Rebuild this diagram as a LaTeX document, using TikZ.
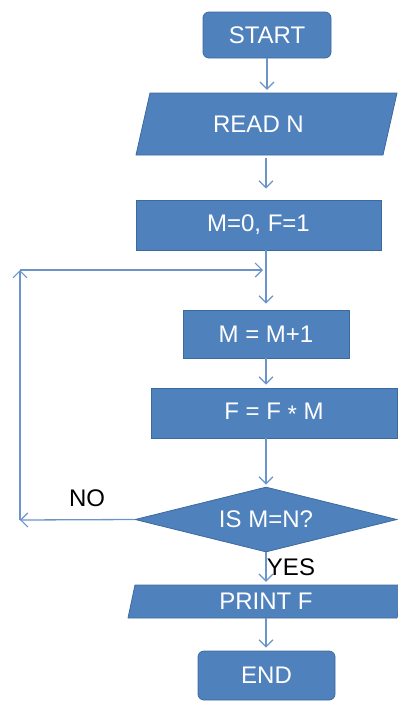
\documentclass[tikz,border=0pt]{standalone}
\usepackage{fontspec}
\setmainfont{Liberation Sans}
\usetikzlibrary{arrows.meta,shapes.geometric}
\definecolor{boxfill}{HTML}{4F81BD}
\definecolor{boxedge}{HTML}{3D6A9E}
\definecolor{flow}{HTML}{6A94CB}
\begin{document}
\begin{tikzpicture}[x=1pt,y=-1pt,
  txt/.style={font=\fontsize{24}{27}\selectfont},
  box/.style={txt, draw=boxedge, fill=boxfill, text=white, line width=0.8pt, inner sep=0pt},
  roundbox/.style={box, rounded corners=6pt},
  slantbox/.style={draw=boxedge, fill=boxfill, line width=0.8pt},
  slanttext/.style={txt, text=white, inner sep=0pt},
  decision/.style={box, diamond, aspect=4},
  arr/.style={draw=flow, line width=1.3pt, -{Straight Barb[length=7pt,width=14pt,line width=1.2pt]}},
  tag/.style={txt, text=black, inner sep=0pt}
]
\useasboundingbox (0,0) rectangle (398,702);

% start
\node[roundbox, minimum width=128, minimum height=46] (start) at (267,35) {START};

% input
\filldraw[slantbox] (150,93) -- (397,93) -- (383,155) -- (136,155) -- cycle;
\node[slanttext, minimum width=230, minimum height=62] (read) at (258.5,124) {READ N};

% initialisation
\node[box, minimum width=245, minimum height=50] (init) at (258.5,225) {M=0, F=1};

% loop body
\node[box, minimum width=166, minimum height=48] (inc) at (266,334) {M = M+1};
\node[box, minimum width=246, minimum height=50] (mul) at (274,413) {F = F \raisebox{-3pt}{*} M};

% test
\node[decision, minimum width=262, minimum height=65] (dec) at (266,519.5) {IS M=N?};

% output
\filldraw[slantbox] (135,585) -- (404,585) -- (397,618) -- (128,618) -- cycle;
\node[slanttext, minimum width=260, minimum height=33] (print) at (266,601.5) {PRINT F};

% end
\node[roundbox, minimum width=137, minimum height=49] (end) at (266.5,675.5) {END};

% loop-back corners
\coordinate (cornerbot) at (20,520);
\coordinate (cornertop) at (20,270);
\coordinate (join) at (266,270);

% connectors
\draw[arr, shorten >=3pt] (start.south) -- (start.south |- read.north);
\draw[arr, shorten <=3pt, shorten >=11pt] (read.south -| join) -- (init.north -| join);
\draw[arr, shorten >=6pt] (init.south -| join) -- (inc.north);
\draw[arr, shorten >=3pt] (cornertop) -- (join);
\draw[arr, shorten >=3pt] (inc.south) -- (inc.south |- mul.north);
\draw[arr, shorten >=2pt] (mul.south -| join) -- (dec.north);
\draw[arr] (dec.west) -- (cornerbot);
\draw[arr] (cornerbot) -- (cornertop);
\draw[arr, shorten >=3pt] (dec.south) -- (dec.south |- print.north);
\draw[arr, shorten >=3pt] (print.south) -- (print.south |- end.north);

% branch labels
\node[tag] (no) at (87,498) {NO};
\node[tag] (yes) at (291,567) {YES};
\end{tikzpicture}
\end{document}
